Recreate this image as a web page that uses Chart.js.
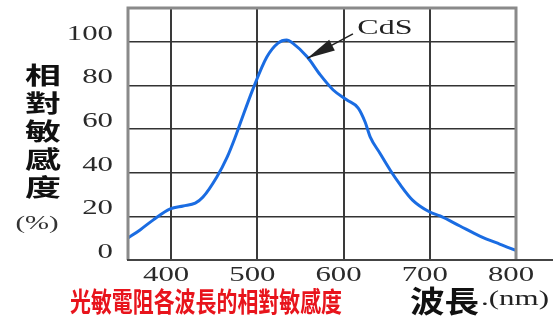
<!DOCTYPE html>
<html>
<head>
<meta charset="utf-8">
<script src="https://cdn.jsdelivr.net/npm/chart.js@4.4.1/dist/chart.umd.min.js"></script>
<style>
  body { margin: 0; background: #fff; }
</style>
</head>
<body>
<canvas id="cdsChart" width="559" height="322"></canvas>
<script>
// wavelength (nm) and relative sensitivity (%)
const wavelengths = [350, 364, 379, 399, 414, 428, 437, 453, 465, 474, 480, 495, 511, 524, 534, 541, 558, 573, 588, 604, 617, 625, 631, 642, 654, 665, 680, 700, 712, 735, 758, 781, 800];
const sensitivity = [10.1, 13.8, 18.3, 23.4, 24.8, 26.1, 28.9, 38.1, 47.2, 56.0, 62.5, 78.5, 93.1, 99.5, 100.9, 99.5, 93.1, 84.9, 78.0, 73.4, 69.7, 63.3, 56.4, 49.1, 41.3, 34.9, 27.5, 22.0, 20.2, 15.6, 11.0, 7.3, 4.4];

const xTicks = [400, 500, 600, 700, 800];
const yTicks = [0, 20, 40, 60, 80, 100];
const yTitleChars = ['相', '對', '敏', '感', '度'];
const seriesName = 'CdS';
const caption = '光敏電阻各波長的相對敏感度';

// where the "CdS" note and its arrow sit, in data units
const noteAt = { x: 648, y: 106 };
const arrowTip = { x: 558, y: 92.5 };

// helper: draw horizontally stretched text
function wideText(ctx, text, x, y, sx, align) {
  ctx.save();
  ctx.translate(x, y);
  ctx.scale(sx, 1);
  ctx.textAlign = align || 'center';
  ctx.fillText(text, 0, 0);
  ctx.restore();
}

const decor = {
  id: 'decor',
  afterDatasetsDraw(chart) {
    const { ctx, chartArea: a, scales } = chart;
    const xs = scales.x, ys = scales.y;

    // frame: left, top, right in grey
    ctx.save();
    ctx.strokeStyle = '#8a8a8a';
    ctx.lineWidth = 3;
    ctx.beginPath();
    ctx.moveTo(a.left, a.bottom);
    ctx.lineTo(a.left, a.top);
    ctx.lineTo(a.right, a.top);
    ctx.lineTo(a.right, a.bottom);
    ctx.stroke();

    // bottom axis running past the plot
    ctx.strokeStyle = '#444';
    ctx.lineWidth = 2;
    ctx.beginPath();
    ctx.moveTo(a.left - 1, a.bottom);
    ctx.lineTo(553, a.bottom);
    ctx.stroke();

    ctx.fillStyle = '#2a2a2a';
    ctx.textBaseline = 'middle';

    // y tick labels
    ctx.font = '22px "Liberation Serif", serif';
    yTicks.forEach(v => {
      ctx.save();
      ctx.translate(113, ys.getPixelForValue(v) - 8);
      ctx.scale(1.4, 1);
      ctx.textAlign = 'right';
      ctx.fillText(String(v), 0, 0);
      ctx.restore();
    });

    // x tick labels
    xTicks.forEach(v => {
      wideText(ctx, String(v), xs.getPixelForValue(v) - 5, 275, 1.4);
    });

    // y title, stacked characters
    ctx.fillStyle = '#111';
    ctx.font = 'bold 24px "Noto Sans CJK TC", sans-serif';
    yTitleChars.forEach((c, i) => {
      wideText(ctx, c, 43, 75 + i * 28, 1.5);
    });
    ctx.fillStyle = '#333';
    ctx.font = '18px "Liberation Serif", serif';
    wideText(ctx, '(%)', 37, 224, 1.6);

    // x title
    ctx.fillStyle = '#111';
    ctx.font = 'bold 30px "Noto Sans CJK TC", sans-serif';
    wideText(ctx, '波長', 410, 301, 1.15, 'left');
    ctx.fillStyle = '#222';
    ctx.font = '20px "Liberation Serif", serif';
    wideText(ctx, '.(nm)', 481, 300, 1.55, 'left');

    // red caption
    ctx.fillStyle = '#e8141c';
    ctx.font = 'bold 27px "Noto Sans CJK TC", sans-serif';
    wideText(ctx, caption, 70, 302, 0.775, 'left');

    // CdS note and arrow
    const nx = xs.getPixelForValue(noteAt.x), ny = ys.getPixelForValue(noteAt.y);
    const tx = xs.getPixelForValue(arrowTip.x), ty = ys.getPixelForValue(arrowTip.y);
    ctx.fillStyle = '#222';
    ctx.font = '20px "Liberation Serif", serif';
    wideText(ctx, seriesName, nx, ny, 1.6);

    const sx = nx - 32, sy = ny + 5;
    const ang = Math.atan2(ty - sy, tx - sx);
    ctx.strokeStyle = '#222';
    ctx.lineWidth = 1.5;
    ctx.beginPath();
    ctx.moveTo(sx, sy);
    ctx.lineTo(tx, ty);
    ctx.stroke();
    const len = 28, half = 6;
    const bx = tx - len * Math.cos(ang), by = ty - len * Math.sin(ang);
    ctx.beginPath();
    ctx.moveTo(tx, ty);
    ctx.lineTo(bx + half * Math.sin(ang), by - half * Math.cos(ang));
    ctx.lineTo(bx - half * Math.sin(ang), by + half * Math.cos(ang));
    ctx.closePath();
    ctx.fill();
    ctx.restore();
  }
};

const ctx = document.getElementById('cdsChart').getContext('2d');
new Chart(ctx, {
  type: 'line',
  data: {
    datasets: [{
      label: seriesName,
      data: wavelengths.map((w, i) => ({ x: w, y: sensitivity[i] })),
      borderColor: '#1a6ce2',
      borderWidth: 3,
      pointRadius: 0,
      cubicInterpolationMode: 'monotone',
      fill: false
    }]
  },
  options: {
    responsive: false,
    animation: false,
    layout: { padding: { top: 8, right: 43, left: 0, bottom: 0 } },
    plugins: { legend: { display: false }, tooltip: { enabled: false } },
    scales: {
      x: {
        type: 'linear',
        min: 350,
        max: 800,
        afterBuildTicks: s => { s.ticks = xTicks.map(v => ({ value: v })); },
        afterFit: s => { s.height = 62; },
        ticks: { display: false },
        border: { display: false },
        grid: { color: '#3a3a3a', lineWidth: 2, drawTicks: false }
      },
      y: {
        min: 0,
        max: 115.6,
        afterBuildTicks: s => { s.ticks = yTicks.map(v => ({ value: v })); },
        afterFit: s => { s.width = 128; },
        ticks: { display: false },
        border: { display: false },
        grid: { color: '#333', lineWidth: 1.5, drawTicks: false }
      }
    }
  },
  plugins: [decor]
});
</script>
</body>
</html>
